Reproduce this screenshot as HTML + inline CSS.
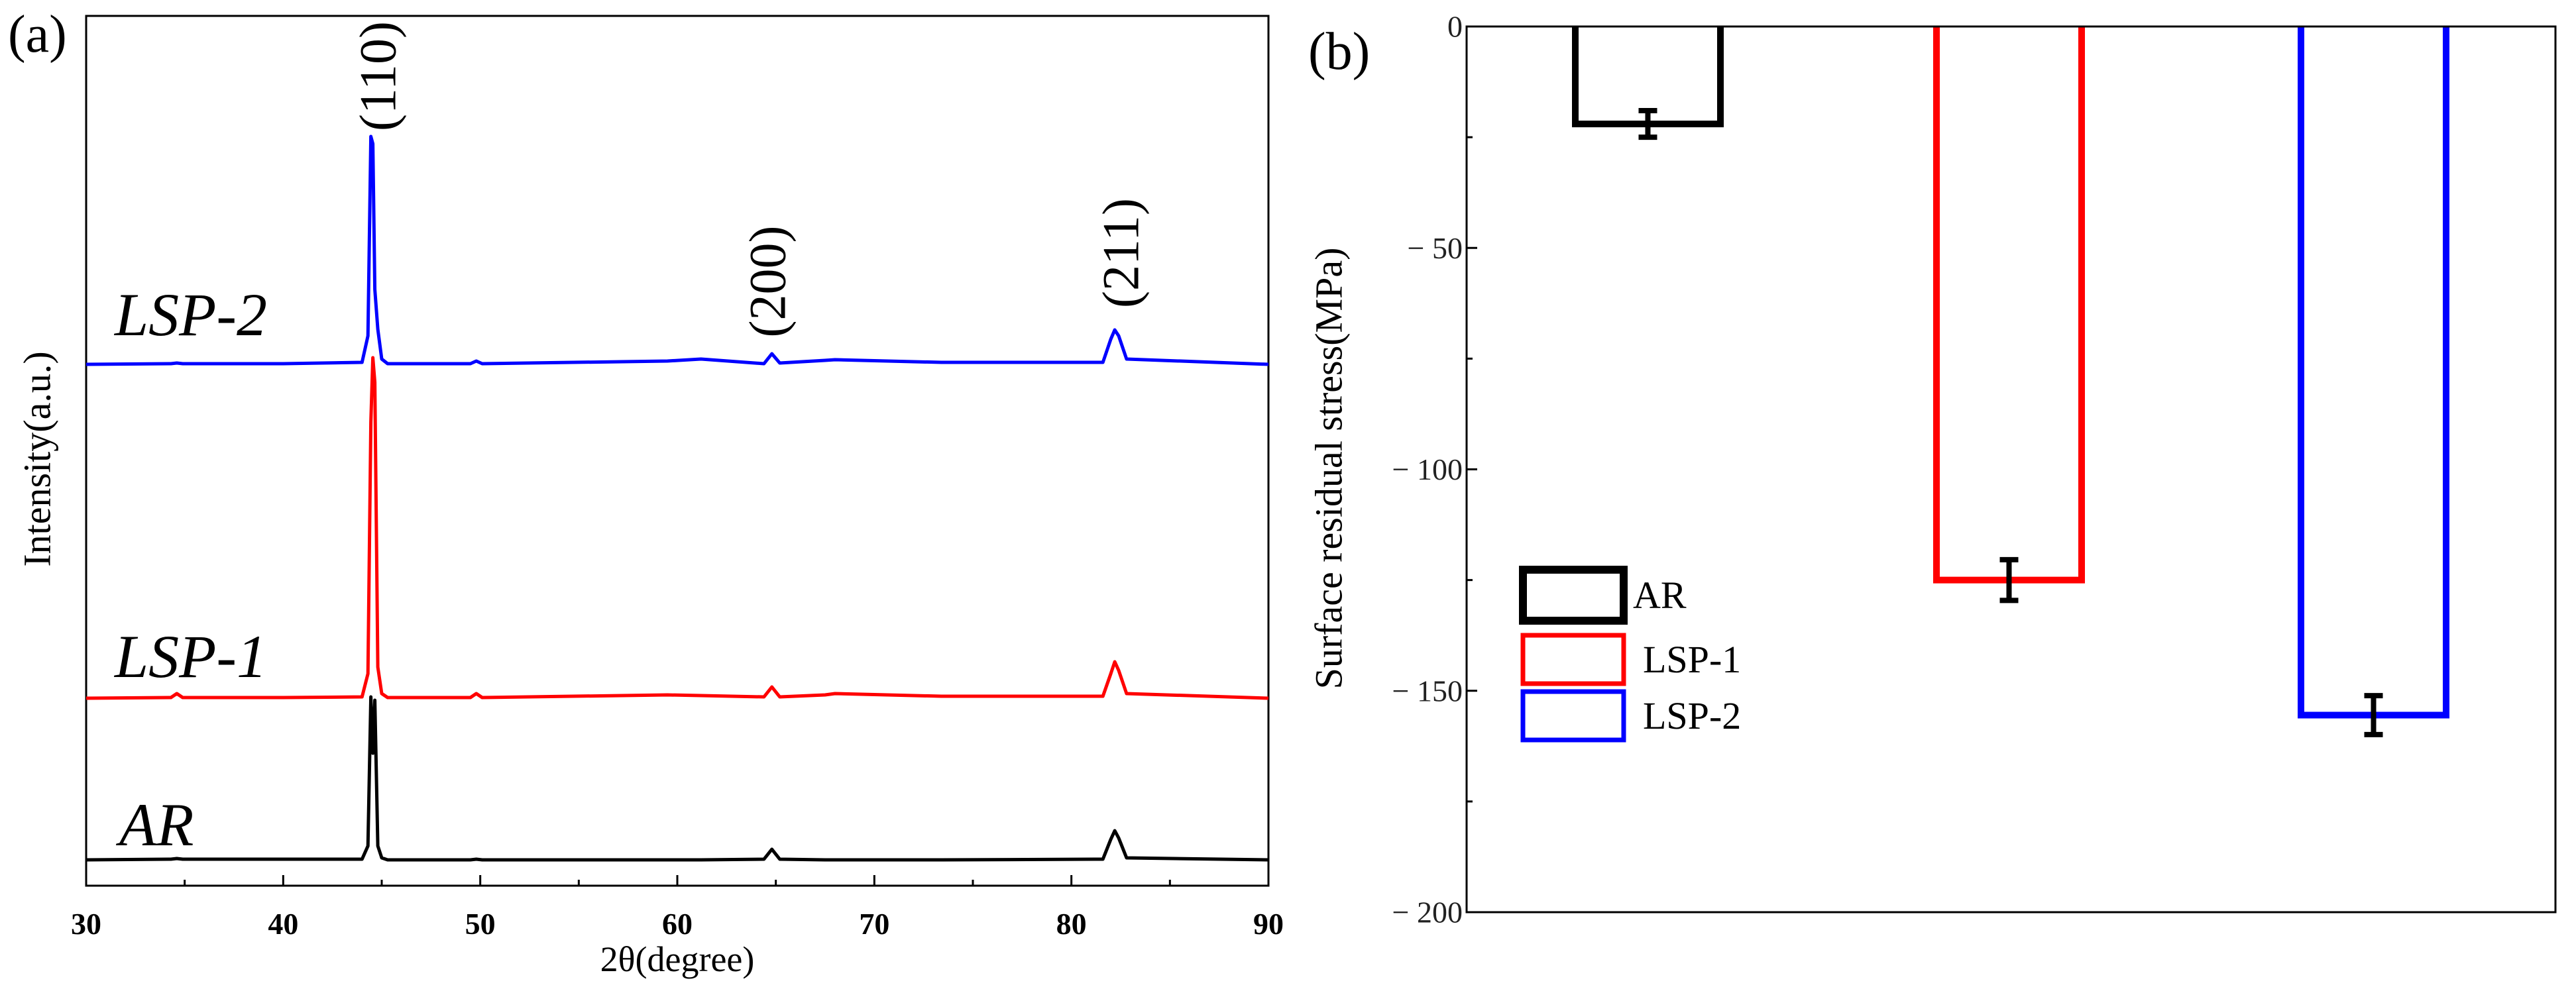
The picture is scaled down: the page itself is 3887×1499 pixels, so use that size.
<!DOCTYPE html>
<html><head><meta charset="utf-8">
<style>
html,body{margin:0;padding:0;background:#fff;}
svg{display:block;font-family:"Liberation Serif",serif;}
</style></head>
<body>
<svg id="fig" width="3887" height="1499" viewBox="0 0 3887 1499" xmlns="http://www.w3.org/2000/svg">
<g id="pa"></g>
<g id="pb"></g>
</svg>
<script>
// ---- Panel (a) data ----
const twoTheta = [30,34.3,34.6,34.9,40,44.0,44.3,44.45,44.55,44.65,44.8,45.0,45.3,49.5,49.8,50.1,59.5,61.2,64.4,64.8,65.2,67.5,68,73.4,81.6,82.0,82.2,82.4,82.8,90];
const intensityAR   = [39,40,41,40,40,40,60,285,200,280,60,42,39,39,40,39,39,39,40,55,40,39,39,39,40,70,83,72,42,39];
const intensityLSP1 = [283,284,290,284,284,285,320,700,797,760,330,290,284,284,290,284,288,287,285,300,285,288,290,286,286,320,338,325,290,283];
const intensityLSP2 = [787,788,789,788,788,790,830,1131,1120,900,840,795,788,788,792,788,792,795,788,803,789,793,794,790,790,825,839,830,795,787];
const xTicks = [30,40,50,60,70,80,90];
const xMinor = [35,45,55,65,75,85];
// ---- Panel (b) data ----
const categories = ["AR","LSP-1","LSP-2"];
const stressValues = [-22,-125,-155.5];
const stressErrors = [3,4.6,4.4];
const yTicks = [0,-50,-100,-150,-200];
const yMinor = [-25,-75,-125,-175];
const barColors = ["#000","#ff0000","#0000ff"];

const NS="http://www.w3.org/2000/svg";
function mk(parent,tag,attrs,text){const e=document.createElementNS(NS,tag);for(const k in attrs)e.setAttribute(k,attrs[k]);if(text!==undefined)e.textContent=text;parent.appendChild(e);return e;}

// Panel a
const pa=document.getElementById('pa');
const A={l:130,r:1914,t:24,b:1337};
const xa=v=>A.l+(v-30)/60*(A.r-A.l);
const ya=v=>A.b-v*(A.b-A.t)/1313;
let e=mk(pa,'rect',{x:A.l,y:A.t,width:A.r-A.l,height:A.b-A.t,fill:'none',stroke:'#000','stroke-width':3});

xTicks.forEach(t=>{
  let l=mk(pa,'line',{x1:xa(t),x2:xa(t),y1:A.b,y2:A.b-16,stroke:'#000','stroke-width':3});
  
  let tx=mk(pa,'text',{x:xa(t),y:1410,'font-size':46,'font-weight':'bold','text-anchor':'middle'},String(t));
  
});
xMinor.forEach(t=>{
  let l=mk(pa,'line',{x1:xa(t),x2:xa(t),y1:A.b,y2:A.b-9,stroke:'#000','stroke-width':3});
  
});
const series=[[intensityAR,'#000','ar-spectrum'],[intensityLSP1,'#ff0000','lsp1-spectrum'],[intensityLSP2,'#0000ff','lsp2-spectrum']];
series.forEach(s=>{
  const d=twoTheta.map((x,i)=>(i?'L':'M')+xa(x).toFixed(1)+' '+ya(s[0][i]).toFixed(1)).join(' ');
  let p=mk(pa,'path',{d:d,fill:'none',stroke:s[1],'stroke-width':5,'stroke-linejoin':'round'});
  
});
[['LSP-2',173,506,'lsp2-label'],['LSP-1',173,1022,'lsp1-label'],['AR',180,1276,'ar-label']].forEach(a=>{
  let t=mk(pa,'text',{x:a[1],y:a[2],'font-size':92,'font-style':'italic'},a[0]);
  
});
[['(110)',570,115,'peak-110-label'],['(200)',1158,425,'peak-200-label'],['(211)',1691,382,'peak-211-label']].forEach(a=>{
  let t=mk(pa,'text',{x:a[1],y:a[2],'font-size':78,'text-anchor':'middle','dominant-baseline':'central',transform:`rotate(-90 ${a[1]} ${a[2]})`},a[0]);
  
});
e=mk(pa,'text',{x:56,y:693,'font-size':58,'text-anchor':'middle','dominant-baseline':'central',transform:'rotate(-90 56 693)'},'Intensity(a.u.)');

e=mk(pa,'text',{x:1022,y:1466,'font-size':54,'text-anchor':'middle'},'2θ(degree)');

e=mk(pa,'text',{x:12,y:78,'font-size':80},'(a)');


// Panel b
const pb=document.getElementById('pb');
const B={l:2213,r:3856,t:40,b:1377};
const yb=v=>B.t+(0-v)/200*(B.b-B.t);
const barX=[2377,2922,3472], barW=219;
yTicks.forEach(t=>{
  let l=mk(pb,'line',{x1:B.l,x2:B.l+16,y1:yb(t),y2:yb(t),stroke:'#000','stroke-width':3});
  
  let tx=mk(pb,'text',{x:B.l-6,y:yb(t),'font-size':46,'text-anchor':'end','dominant-baseline':'central',fill:'#222'},t===0?'0':'− '+(-t));
  
});
yMinor.forEach(t=>{
  let l=mk(pb,'line',{x1:B.l,x2:B.l+9,y1:yb(t),y2:yb(t),stroke:'#000','stroke-width':3});
  
});
categories.forEach((c,i)=>{
  const v=stressValues[i];
  const x0=barX[i], x1=barX[i]+barW, yv=yb(v), y0=yb(0);
  let r=mk(pb,'path',{d:`M${x0} ${y0} L${x0} ${yv} L${x1} ${yv} L${x1} ${y0}`,fill:'none',stroke:barColors[i],'stroke-width':10,'stroke-linejoin':'miter'});
  
  const cx=barX[i]+barW/2, ya1=yb(v+stressErrors[i]), ya2=yb(v-stressErrors[i]);
  const eg=mk(pb,'g',{stroke:'#000','stroke-width':8});
  
  mk(eg,'line',{x1:cx,x2:cx,y1:ya1,y2:ya2});
  mk(eg,'line',{x1:cx-14,x2:cx+14,y1:ya1,y2:ya1});
  mk(eg,'line',{x1:cx-14,x2:cx+14,y1:ya2,y2:ya2});
});
e=mk(pb,'rect',{x:B.l,y:B.t,width:B.r-B.l,height:B.b-B.t,fill:'none',stroke:'#000','stroke-width':3});

const leg=[[860,937,12,2464],[959,1032,7,2479],[1044,1117,7,2479]];
categories.forEach((c,i)=>{
  const g=mk(pb,'g',{});
  
  const L=leg[i];
  mk(g,'rect',{x:2298,y:L[0],width:152,height:L[1]-L[0],fill:'none',stroke:barColors[i],'stroke-width':L[2]});
  mk(g,'text',{x:L[3],y:(L[0]+L[1])/2,'font-size':58,'dominant-baseline':'central'},c);
});
e=mk(pb,'text',{x:2005,y:707,'font-size':58,'text-anchor':'middle','dominant-baseline':'central',transform:'rotate(-90 2005 707)'},'Surface residual stress(MPa)');

e=mk(pb,'text',{x:1974,y:104,'font-size':80},'(b)');

</script>
</body></html>
